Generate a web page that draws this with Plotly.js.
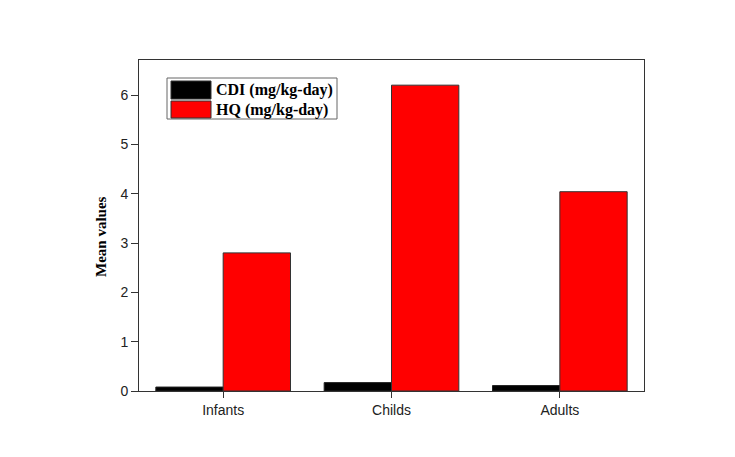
<!DOCTYPE html>
<html>
<head>
<meta charset="utf-8">
<script src="https://cdn.plot.ly/plotly-3.0.1.min.js"></script>
<style>html,body{margin:0;padding:0;background:#fff;}#chart{width:735px;height:457px;}</style>
</head>
<body>
<div id="chart"></div>
<script>
const categories = ["Infants", "Childs", "Adults"];
const seriesNames = ["CDI (mg/kg-day)", "HQ (mg/kg-day)"];
const cdiValues = [0.08, 0.17, 0.11];
const hqValues = [2.80, 6.20, 4.04];
const yTicks = [0, 1, 2, 3, 4, 5, 6];
const yTitle = "Mean values";
const colors = ["#000000", "#ff0000"];

const W = 735, H = 457;
const mL = 139, mR = 91, mT = 60, mB = 66;
const pw = W - mL - mR, ph = H - mT - mB;
const px = x => (x - mL) / pw;
const py = y => 1 - (y - mT) / ph;

const traces = [
  {type: "bar", name: seriesNames[0], x: categories, y: cdiValues,
   marker: {color: colors[0], line: {color: "#222", width: 1}}, showlegend: false},
  {type: "bar", name: seriesNames[1], x: categories, y: hqValues,
   marker: {color: colors[1], line: {color: "#333", width: 1}}, showlegend: false}
];

const shapes = [
  {type: "rect", xref: "paper", yref: "paper", x0: px(167), x1: px(337), y0: py(119), y1: py(78),
   line: {color: "#666", width: 1}, fillcolor: "#fff"},
  {type: "rect", xref: "paper", yref: "paper", x0: px(171), x1: px(211), y0: py(99), y1: py(81),
   line: {color: "#333", width: 1}, fillcolor: colors[0]},
  {type: "rect", xref: "paper", yref: "paper", x0: px(171), x1: px(211), y0: py(118), y1: py(101),
   line: {color: "#333", width: 1}, fillcolor: colors[1]}
];
const annotations = seriesNames.map((n, i) => ({
  xref: "paper", yref: "paper", x: px(214), y: py(i === 0 ? 90 : 109.5),
  xanchor: "left", yanchor: "middle", showarrow: false, text: "<b>" + n + "</b>",
  font: {family: "Liberation Serif, Times New Roman, serif", size: 16, color: "#000"}
}));
annotations.push({
  xref: "paper", yref: "paper", x: px(101), y: py(237), xanchor: "center", yanchor: "middle",
  showarrow: false, textangle: -90, text: "<b>" + yTitle + "</b>",
  font: {family: "Liberation Serif, Times New Roman, serif", size: 15, color: "#000"}
});

const layout = {
  width: W, height: H,
  margin: {l: mL, r: mR, t: mT, b: mB},
  paper_bgcolor: "#ffffff", plot_bgcolor: "#ffffff",
  barmode: "group", bargap: 0.2, bargroupgap: 0,
  showlegend: false,
  xaxis: {range: [-0.5, 2.5], showline: true, mirror: true, linecolor: "#333", linewidth: 1,
    ticks: "outside", ticklen: 6, tickcolor: "#333", showgrid: false, zeroline: false,
    tickfont: {family: "Liberation Sans, Arial, sans-serif", size: 14, color: "#222"}},
  yaxis: {range: [0, 6.71], tickvals: yTicks, showline: true, mirror: true, linecolor: "#333", linewidth: 1,
    ticks: "outside", ticklen: 7, tickcolor: "#333", showgrid: false, zeroline: false,
    tickfont: {family: "Liberation Sans, Arial, sans-serif", size: 14, color: "#222"}},
  shapes: shapes,
  annotations: annotations
};

Plotly.newPlot("chart", traces, layout, {displayModeBar: false, staticPlot: true});
</script>
</body>
</html>
